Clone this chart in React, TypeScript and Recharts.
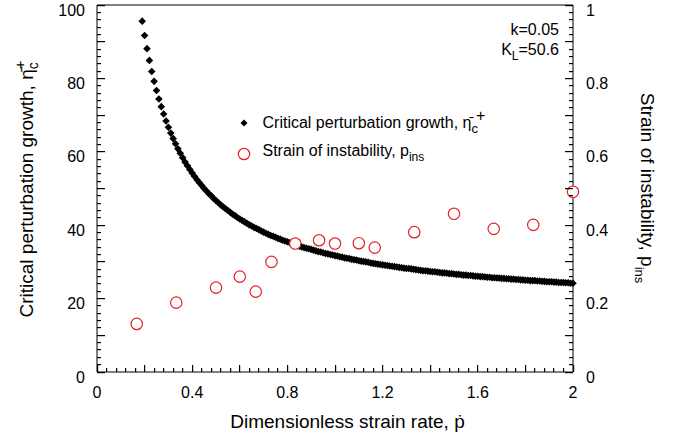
import React from 'react';
import { ScatterChart, Scatter, XAxis, YAxis, Legend } from 'recharts';

// critical perturbation growth vs dimensionless strain rate (left axis)
const rate = [
  0.19,
  0.2, 0.21, 0.22, 0.23, 0.24, 0.25, 0.26, 0.27, 0.28, 0.29,
  0.3, 0.31, 0.32, 0.33, 0.34, 0.35, 0.36, 0.37, 0.38, 0.39,
  0.4, 0.41, 0.42, 0.43, 0.44, 0.45, 0.46, 0.47, 0.48, 0.49,
  0.5, 0.51, 0.52, 0.53, 0.54, 0.55, 0.56, 0.57, 0.58, 0.59,
  0.6, 0.61, 0.62, 0.63, 0.64, 0.65, 0.66, 0.67, 0.68, 0.69,
  0.7, 0.71, 0.72, 0.73, 0.74, 0.75, 0.76, 0.77, 0.78, 0.79,
  0.8, 0.81, 0.82, 0.83, 0.84, 0.85, 0.86, 0.87, 0.88, 0.89,
  0.9, 0.91, 0.92, 0.93, 0.94, 0.95, 0.96, 0.97, 0.98, 0.99,
  1.0, 1.01, 1.02, 1.03, 1.04, 1.05, 1.06, 1.07, 1.08, 1.09,
  1.1, 1.11, 1.12, 1.13, 1.14, 1.15, 1.16, 1.17, 1.18, 1.19,
  1.2, 1.21, 1.22, 1.23, 1.24, 1.25, 1.26, 1.27, 1.28, 1.29,
  1.3, 1.31, 1.32, 1.33, 1.34, 1.35, 1.36, 1.37, 1.38, 1.39,
  1.4, 1.41, 1.42, 1.43, 1.44, 1.45, 1.46, 1.47, 1.48, 1.49,
  1.5, 1.51, 1.52, 1.53, 1.54, 1.55, 1.56, 1.57, 1.58, 1.59,
  1.6, 1.61, 1.62, 1.63, 1.64, 1.65, 1.66, 1.67, 1.68, 1.69,
  1.7, 1.71, 1.72, 1.73, 1.74, 1.75, 1.76, 1.77, 1.78, 1.79,
  1.8, 1.81, 1.82, 1.83, 1.84, 1.85, 1.86, 1.87, 1.88, 1.89,
  1.9, 1.91, 1.92, 1.93, 1.94, 1.95, 1.96, 1.97, 1.98, 1.99,
  2.0,
];

const growth = [
  95.6,
  91.7, 88.1, 84.9, 81.9, 79.2, 76.7, 74.4, 72.3, 70.3, 68.4,
  66.7, 65.1, 63.6, 62.2, 60.8, 59.6, 58.4, 57.2, 56.2, 55.2,
  54.2, 53.3, 52.4, 51.6, 50.8, 50.0, 49.3, 48.6, 48.0, 47.3,
  46.7, 46.1, 45.5, 45.0, 44.5, 44.0, 43.5, 43.0, 42.6, 42.1,
  41.7, 41.3, 40.9, 40.5, 40.1, 39.8, 39.4, 39.1, 38.8, 38.4,
  38.1, 37.8, 37.5, 37.2, 37.0, 36.7, 36.4, 36.2, 35.9, 35.7,
  35.5, 35.2, 35.0, 34.8, 34.6, 34.3, 34.1, 33.9, 33.7, 33.6,
  33.4, 33.2, 33.0, 32.8, 32.7, 32.5, 32.3, 32.2, 32.0, 31.9,
  31.7, 31.6, 31.4, 31.3, 31.1, 31.0, 30.9, 30.7, 30.6, 30.5,
  30.3, 30.2, 30.1, 30.0, 29.9, 29.7, 29.6, 29.5, 29.4, 29.3,
  29.2, 29.1, 29.0, 28.9, 28.8, 28.7, 28.6, 28.5, 28.4, 28.3,
  28.2, 28.2, 28.1, 28.0, 27.9, 27.8, 27.7, 27.6, 27.6, 27.5,
  27.4, 27.3, 27.3, 27.2, 27.1, 27.0, 27.0, 26.9, 26.8, 26.8,
  26.7, 26.6, 26.6, 26.5, 26.4, 26.4, 26.3, 26.3, 26.2, 26.1,
  26.1, 26.0, 26.0, 25.9, 25.8, 25.8, 25.7, 25.7, 25.6, 25.6,
  25.5, 25.5, 25.4, 25.4, 25.3, 25.3, 25.2, 25.2, 25.1, 25.1,
  25.0, 25.0, 24.9, 24.9, 24.9, 24.8, 24.8, 24.7, 24.7, 24.6,
  24.6, 24.6, 24.5, 24.5, 24.4, 24.4, 24.4, 24.3, 24.3, 24.2,
  24.2,
];

// strain of instability (right axis)
const insRate = [0.167, 0.333, 0.5, 0.6, 0.667, 0.733, 0.833, 0.933, 1.0, 1.1, 1.167, 1.333, 1.5, 1.667, 1.833, 2.0];
const insStrain = [0.131, 0.189, 0.23, 0.26, 0.219, 0.3, 0.35, 0.359, 0.35, 0.351, 0.339, 0.381, 0.431, 0.39, 0.401, 0.491];

const xLabels = [0, 0.4, 0.8, 1.2, 1.6, 2];
const leftLabels = [0, 20, 40, 60, 80, 100];
const rightLabels = [0, 0.2, 0.4, 0.6, 0.8, 1];

const FONT = '"Liberation Sans", Arial, sans-serif';
const RED = '#e32228';

const growthData = rate.map((x, i) => ({ x, y: growth[i] }));
const insData = insRate.map((x, i) => ({ x, y: insStrain[i] }));

const steps = (stop: number, step: number) => {
  const out: number[] = [];
  for (let i = 0; i * step <= stop + 1e-9; i++) out.push(Math.round(i * step * 1000) / 1000);
  return out;
};
const near = (v: number, list: number[]) => list.some((l) => Math.abs(l - v) < 1e-6);
const isMult = (v: number, m: number) => Math.abs(v / m - Math.round(v / m)) < 1e-6;

const xTicks = steps(2, 0.04);
const leftTicks = steps(100, 2);
const rightTicks = steps(1, 0.02);

const txt = { fontFamily: FONT, fontSize: 16, fill: '#000' };
const titleStyle = { fontFamily: FONT, fontSize: 19, fill: '#000' };

// inward tick marks, labels only on the labelled values
const BottomTick = ({ x, y, payload }: any) => {
  const v = payload.value;
  const px = Number(x);
  const py = Number(y);
  const len = isMult(v, 0.2) ? 7 : 4;
  return (
    <g>
      <rect x={Math.floor(px)} y={Math.round(py) - len} width={1.2} height={len} fill="#000" />
      {near(v, xLabels) && (
        <text x={px} y={py + 26} textAnchor="middle" style={txt}>{String(v)}</text>
      )}
    </g>
  );
};

const TopTick = ({ x, y, payload }: any) => {
  const px = Number(x);
  const py = Number(y);
  const len = isMult(payload.value, 0.2) ? 7 : 4;
  return <rect x={Math.floor(px)} y={Math.round(py)} width={1.2} height={len} fill="#000" />;
};

const LeftTick = ({ x, y, payload }: any) => {
  const v = payload.value;
  const px = Number(x);
  const py = Number(y);
  const len = isMult(v, 10) ? 8 : 4;
  return (
    <g>
      <rect x={Math.round(px)} y={Math.floor(py)} width={len} height={1.2} fill="#000" />
      {near(v, leftLabels) && (
        <text x={px - 12} y={py + 10.5} textAnchor="end" style={txt}>{String(v)}</text>
      )}
    </g>
  );
};

const RightTick = ({ x, y, payload }: any) => {
  const v = payload.value;
  const px = Number(x);
  const py = Number(y);
  const len = isMult(v, 0.1) ? 8 : 4;
  return (
    <g>
      <rect x={Math.round(px) - len} y={Math.floor(py)} width={len} height={1.2} fill="#000" />
      {near(v, rightLabels) && (
        <text x={px + 13} y={py + 10.5} textAnchor="start" style={txt}>{String(v)}</text>
      )}
    </g>
  );
};

const Diamond = ({ cx, cy }: any) => (
  <polygon points={`${cx},${cy - 3.8} ${cx + 3.8},${cy} ${cx},${cy + 3.8} ${cx - 3.8},${cy}`} fill="#000" />
);

const Ring = ({ cx, cy }: any) => (
  <circle cx={cx} cy={cy} r={5.7} fill="#fff" stroke={RED} strokeWidth={1.2} />
);

// series key, k / K_L note and axis titles, laid over the chart by the legend
const Overlay = () => (
  <svg width={676} height={439} style={{ display: 'block', overflow: 'visible', pointerEvents: 'none' }}>
    <polygon points="244,119.5 247.5,123 244,126.5 240.5,123" fill="#000" />
    <text x={262.5} y={128} style={txt}>
      Critical perturbation growth, η̄<tspan dy={5} fontSize={13}>c</tspan><tspan dx={-2} dy={-12}>+</tspan>
    </text>
    <circle cx={244} cy={154} r={5.7} fill="#fff" stroke={RED} strokeWidth={1.2} />
    <text x={262.5} y={156} style={txt}>
      Strain of instability, p<tspan dy={5} fontSize={12}>ins</tspan>
    </text>
    <text x={559} y={35} textAnchor="end" style={txt}>k=0.05</text>
    <text x={559} y={55} textAnchor="end" style={txt}>
      K<tspan dy={5} fontSize={12}>L</tspan><tspan dy={-5}>=50.6</tspan>
    </text>
    <text x={347.5} y={428} textAnchor="middle" style={titleStyle}>Dimensionless strain rate, ṗ</text>
    <text x={33} y={189} transform="rotate(-90, 33, 189)" textAnchor="middle" style={titleStyle}>
      Critical perturbation growth, η̄<tspan dy={5} fontSize={14}>c</tspan><tspan dx={-7} dy={-13} fontSize={15}>+</tspan>
    </text>
    <text x={641} y={188} transform="rotate(90, 641, 188)" textAnchor="middle" style={titleStyle}>
      Strain of instability, p<tspan dy={6} fontSize={13}>ins</tspan>
    </text>
  </svg>
);

const axisCommon = {
  interval: 0 as const,
  tickLine: false,
  tickSize: -4,
  tickMargin: 4,
  axisLine: { stroke: '#000' },
};

export default function App() {
  return (
    <div style={{ position: 'absolute', left: 0, top: 0 }}>
      <ScatterChart width={676} height={439} margin={{ top: 4, right: 0, bottom: 0, left: 0 }}>
        <XAxis
          xAxisId="bottom"
          type="number"
          dataKey="x"
          domain={[0, 2]}
          ticks={xTicks}
          tick={<BottomTick />}
          height={67}
          {...axisCommon}
        />
        <XAxis
          xAxisId="top"
          orientation="top"
          type="number"
          dataKey="x"
          domain={[0, 2]}
          ticks={xTicks}
          tick={<TopTick />}
          height={1}
          {...axisCommon}
        />
        <YAxis
          yAxisId="left"
          type="number"
          dataKey="y"
          domain={[0, 100]}
          ticks={leftTicks}
          tick={<LeftTick />}
          width={97}
          {...axisCommon}
        />
        <YAxis
          yAxisId="right"
          orientation="right"
          type="number"
          dataKey="y"
          domain={[0, 1]}
          ticks={rightTicks}
          tick={<RightTick />}
          width={103}
          {...axisCommon}
        />
        <Scatter
          name="Critical perturbation growth"
          data={growthData}
          xAxisId="bottom"
          yAxisId="left"
          shape={<Diamond />}
          isAnimationActive={false}
        />
        <Scatter
          name="Strain of instability"
          data={insData}
          xAxisId="bottom"
          yAxisId="right"
          shape={<Ring />}
          isAnimationActive={false}
        />
        <Legend
          layout="horizontal"
          verticalAlign="middle"
          align="center"
          content={<Overlay />}
          wrapperStyle={{ left: 0, top: 0, width: 676, height: 439, pointerEvents: 'none' }}
        />
      </ScatterChart>
    </div>
  );
}
